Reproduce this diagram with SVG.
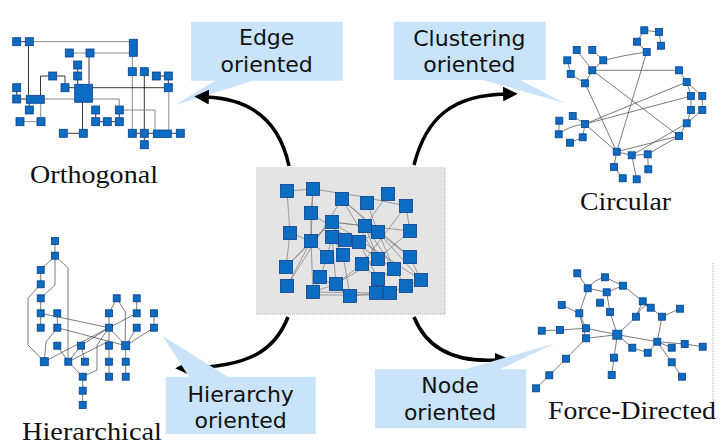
<svg xmlns="http://www.w3.org/2000/svg" width="723" height="446" viewBox="0 0 723 446">
<style>
.n{fill:#0b6cc2;stroke:#0a3f8c;stroke-width:0.8}
.e{fill:none;stroke:#444;stroke-width:0.7}
.og{fill:none;stroke:#8a8a8a;stroke-width:1}
.od{fill:none;stroke:#222;stroke-width:0.9}
.ce{fill:none;stroke:#555;stroke-width:0.6;opacity:0.85}
.call{fill:#c8e3fa}
.ct{font-family:"DejaVu Sans",Verdana,sans-serif;font-size:22px;fill:#111;text-anchor:middle}
.lab{font-family:"Liberation Serif","Times New Roman",serif;font-size:26px;fill:#111}
.arr{fill:none;stroke:#000;stroke-width:3.5}
</style>
<defs>
<marker id="ah" viewBox="0 0 10 10" refX="2" refY="5" markerWidth="4.2" markerHeight="4.2" orient="auto" markerUnits="strokeWidth">
<path d="M0,0 L10,5 L0,10 z" fill="#000"/>
</marker>
</defs>
<rect width="723" height="446" fill="#fff"/>

<!-- Center graph -->
<g id="center">
<rect x="256" y="167" width="189" height="147" fill="#e4e4e4"/>
<path d="M256,314 H445 V167" fill="none" stroke="#aaa" stroke-width="1" stroke-dasharray="1,1"/>
<g class="ce">
<path d="M287,191 L313,189"/><path d="M313,189 Q360,195 406,206"/><path d="M313,189 L311,213"/><path d="M313,189 L311,241"/>
<path d="M287,191 L290,233"/><path d="M342,199 L378,259"/><path d="M342,199 L378,232"/><path d="M367,203 L378,232"/>
<path d="M388,194 L365,226"/><path d="M406,206 L362,264"/><path d="M406,206 L410,231"/><path d="M311,213 L311,241"/>
<path d="M332,222 L311,241"/><path d="M332,222 L365,226"/><path d="M332,222 L410,231"/><path d="M365,226 L378,259"/>
<path d="M378,232 L421,280"/><path d="M378,232 L394,269"/><path d="M378,232 L410,257"/><path d="M410,231 L378,259"/>
<path d="M290,233 L286,267"/><path d="M290,233 L311,241"/><path d="M311,241 L286,267"/><path d="M311,241 L287,286"/>
<path d="M311,241 L327,257"/><path d="M311,241 L313,292"/><path d="M332,237 L327,257"/><path d="M332,237 L343,255"/>
<path d="M345,240 L359,242"/><path d="M359,242 L378,232"/><path d="M359,242 L378,279"/><path d="M343,255 L350,296"/>
<path d="M327,257 L320,277"/><path d="M378,259 L362,264"/><path d="M378,259 L336,284"/><path d="M410,257 L421,280"/>
<path d="M362,264 L336,284"/><path d="M362,264 L378,279"/><path d="M394,269 L378,279"/><path d="M320,277 L313,292"/>
<path d="M336,284 L313,292"/><path d="M313,292 L376,293"/><path d="M313,295 L390,295"/><path d="M350,296 L376,293"/>
<path d="M378,279 L376,293"/><path d="M421,280 L406,286"/><path d="M406,286 L390,293"/><path d="M320,277 L350,296"/>
<path d="M342,199 L410,257"/><path d="M332,222 L421,280"/><path d="M311,213 L394,269"/><path d="M286,267 L332,222"/>
<path d="M287,286 L342,199"/><path d="M336,284 L332,237"/><path d="M365,226 L406,286"/>
</g>
<g class="n">
<rect x="280.5" y="184.5" width="13" height="13"/><rect x="306.5" y="182.5" width="13" height="13"/><rect x="335.5" y="192.5" width="13" height="13"/>
<rect x="360.5" y="196.5" width="13" height="13"/><rect x="381.5" y="187.5" width="13" height="13"/><rect x="399.5" y="199.5" width="13" height="13"/>
<rect x="304.5" y="206.5" width="13" height="13"/><rect x="325.5" y="215.5" width="13" height="13"/><rect x="358.5" y="219.5" width="13" height="13"/>
<rect x="371.5" y="225.5" width="13" height="13"/><rect x="403.5" y="224.5" width="13" height="13"/><rect x="283.5" y="226.5" width="13" height="13"/>
<rect x="304.5" y="234.5" width="13" height="13"/><rect x="325.5" y="230.5" width="13" height="13"/><rect x="338.5" y="233.5" width="13" height="13"/>
<rect x="352.5" y="235.5" width="13" height="13"/><rect x="336.5" y="248.5" width="13" height="13"/><rect x="320.5" y="250.5" width="13" height="13"/>
<rect x="371.5" y="252.5" width="13" height="13"/><rect x="403.5" y="250.5" width="13" height="13"/><rect x="355.5" y="257.5" width="13" height="13"/>
<rect x="279.5" y="260.5" width="13" height="13"/><rect x="387.5" y="262.5" width="13" height="13"/><rect x="313.5" y="270.5" width="13" height="13"/>
<rect x="371.5" y="272.5" width="13" height="13"/><rect x="414.5" y="273.5" width="13" height="13"/><rect x="280.5" y="279.5" width="13" height="13"/>
<rect x="329.5" y="277.5" width="13" height="13"/><rect x="399.5" y="279.5" width="13" height="13"/><rect x="306.5" y="285.5" width="13" height="13"/>
<rect x="343.5" y="289.5" width="13" height="13"/><rect x="369.5" y="286.5" width="13" height="13"/><rect x="383.5" y="286.5" width="13" height="13"/>
</g>
</g>

<!-- Orthogonal -->
<g id="orthogonal">
<g>
<path class="og" d="M33,41.7 H129.3"/><path class="od" d="M20.7,41.7 H25.3"/><path class="od" d="M28.5,45.7 V95.3"/>
<path class="og" d="M73.3,53 H86 M94,53 H129.3"/><path class="od" d="M89,57 V84.3"/><path class="od" d="M77.7,69 V72 M77.7,80 V84.3"/>
<path class="og" d="M132.3,56.3 V67.7"/><path class="og" d="M132.3,75.7 V129.3"/><path class="od" d="M144.3,75.7 V129.3"/>
<path class="od" d="M160.3,76 H164.3"/><path class="od" d="M168.3,80 V83.7"/><path class="od" d="M92.4,87.7 H164.3"/>
<path class="og" d="M168.8,91.7 V130"/><path class="od" d="M48.7,76 H40.5 V95.3"/><path class="od" d="M56.7,76 H65 V83.7"/>
<path class="od" d="M69,87.7 H74.7"/><path class="og" d="M44.3,99 H74.7"/><path class="od" d="M16.7,91.7 V95"/>
<path class="od" d="M20.7,99 H26.3"/><path class="od" d="M29.3,103.3 V106"/><path class="og" d="M40.7,103.3 V117.7"/>
<path class="og" d="M24,121.7 H37" stroke-width="2"/><path class="og" d="M92.4,99 H119.3 V106"/><path class="od" d="M95.7,114 V117.7"/>
<path class="od" d="M99.7,121.7 H103.3 M111.3,121.7 H115.3"/><path class="od" d="M119.3,114 V117.7"/>
<path class="og" d="M155,130 V110 H123.3"/><path class="od" d="M82.5,102.3 V129.3"/><path class="od" d="M67.3,133.3 H79.3"/>
<path class="od" d="M136.3,133.3 H140.3 M148.3,133.3 H153.3 M171.3,133.3 H176.3"/><path class="od" d="M144.3,137.3 V140.7"/>
</g>
<g class="n">
<rect x="12.7" y="37.7" width="8" height="8"/><rect x="25.3" y="37.7" width="8" height="8"/><rect x="65.3" y="49" width="8" height="8"/>
<rect x="86" y="49" width="8" height="8"/><rect x="73.7" y="61" width="8" height="8"/><rect x="73.7" y="72" width="8" height="8"/>
<rect x="128.3" y="67.7" width="8" height="8"/><rect x="140.3" y="67.7" width="8" height="8"/><rect x="152.3" y="72" width="8" height="8"/>
<rect x="164.3" y="72" width="8" height="8"/><rect x="48.7" y="72" width="8" height="8"/><rect x="61" y="83.7" width="8" height="8"/>
<rect x="164.3" y="83.7" width="8" height="8"/><rect x="12.7" y="83.7" width="8" height="8"/><rect x="12.7" y="95" width="8" height="8"/>
<rect x="25.3" y="106" width="8" height="8"/><rect x="91.7" y="106" width="8" height="8"/><rect x="115.3" y="106" width="8" height="8"/>
<rect x="16" y="117.7" width="8" height="8"/><rect x="37" y="117.7" width="8" height="8"/><rect x="91.7" y="117.7" width="8" height="8"/>
<rect x="103.3" y="117.7" width="8" height="8"/><rect x="115.3" y="117.7" width="8" height="8"/><rect x="59.3" y="129.3" width="8" height="8"/>
<rect x="79.3" y="129.3" width="8" height="8"/><rect x="128.3" y="129.3" width="8" height="8"/><rect x="140.3" y="129.3" width="8" height="8"/>
<rect x="176.3" y="129.3" width="8" height="8"/><rect x="140.3" y="140.7" width="8" height="8"/>
<rect x="129.3" y="39.3" width="8" height="17"/><rect x="74.7" y="84.3" width="17.7" height="18"/>
<rect x="26.3" y="95.3" width="18" height="8"/><rect x="153.3" y="130" width="18" height="7.5"/>
</g>
<text class="lab" x="30" y="183" textLength="128" lengthAdjust="spacingAndGlyphs">Orthogonal</text>
</g>

<!-- Circular -->
<g id="circular">
<g class="e">
<path d="M644.3,30.3 L659,32 L661,45.7"/><path d="M644.3,30.3 L637,41.7 L646.7,52"/><path d="M646.7,52 Q625,55 603.3,60.3"/>
<path d="M646.7,52 L616.7,151.7"/><path d="M576.7,50 L592.3,70.3"/><path d="M592.3,50 L603.3,60.3 L592.3,70.3"/>
<path d="M567.3,60.3 L570.7,74 L585,83.3 L592.3,70.3"/><path d="M592.3,70.3 L679,70.3"/><path d="M592.3,70.3 L679,136"/>
<path d="M585,83.3 L616.7,151.7"/><path d="M679,70.3 L686.7,82 L691,96"/><path d="M686.7,82 L702.3,96"/>
<path d="M686.7,82 L585,124"/><path d="M691,96 L585,124"/><path d="M691,96 L691,110"/><path d="M702.3,96 L702.3,110 L686.7,123.3"/>
<path d="M691,110 L686.7,123.3 L679,136"/><path d="M686.7,123.3 L631.7,155.3"/><path d="M679,136 L616.7,151.7"/>
<path d="M679,136 L647.7,154.3"/><path d="M585,124 L572.7,116"/><path d="M585,124 Q568,126 558.7,134.3"/>
<path d="M585,124 L582.7,137.3"/><path d="M559.3,120.7 L558.7,134.3"/><path d="M585,124 L616.7,151.7"/>
<path d="M616.7,151.7 L631.7,155.3 L647.7,154.3"/><path d="M616.7,151.7 L614,167 L622.7,178.3"/><path d="M631.7,155.3 L636.7,179.3"/>
<path d="M647.7,154.3 L648.3,169.3"/><path d="M582.7,137.3 L570,142.7"/>
</g>
<g class="n">
<rect x="640.8" y="26.8" width="7" height="7"/><rect x="655.5" y="28.5" width="7" height="7"/><rect x="633.5" y="38.2" width="7" height="7"/>
<rect x="657.5" y="42.2" width="7" height="7"/><rect x="643.2" y="48.5" width="7" height="7"/><rect x="573.2" y="46.5" width="7" height="7"/>
<rect x="588.8" y="46.5" width="7" height="7"/><rect x="563.8" y="56.8" width="7" height="7"/><rect x="599.8" y="56.8" width="7" height="7"/>
<rect x="588.8" y="66.8" width="7" height="7"/><rect x="567.2" y="70.5" width="7" height="7"/><rect x="581.5" y="79.8" width="7" height="7"/>
<rect x="675.5" y="66.8" width="7" height="7"/><rect x="683.2" y="78.5" width="7" height="7"/><rect x="687.5" y="92.5" width="7" height="7"/>
<rect x="698.8" y="92.5" width="7" height="7"/><rect x="687.5" y="106.5" width="7" height="7"/><rect x="698.8" y="106.5" width="7" height="7"/>
<rect x="683.2" y="119.8" width="7" height="7"/><rect x="675.5" y="132.5" width="7" height="7"/><rect x="569.2" y="112.5" width="7" height="7"/>
<rect x="555.8" y="117.2" width="7" height="7"/><rect x="581.5" y="120.5" width="7" height="7"/><rect x="555.2" y="130.8" width="7" height="7"/>
<rect x="579.2" y="133.8" width="7" height="7"/><rect x="566.5" y="139.2" width="7" height="7"/><rect x="613.2" y="148.2" width="7" height="7"/>
<rect x="628.2" y="151.8" width="7" height="7"/><rect x="644.2" y="150.8" width="7" height="7"/><rect x="610.5" y="163.5" width="7" height="7"/>
<rect x="619.2" y="174.8" width="7" height="7"/><rect x="633.2" y="175.8" width="7" height="7"/><rect x="644.8" y="165.8" width="7" height="7"/>
</g>
<text class="lab" x="580" y="210" textLength="91" lengthAdjust="spacingAndGlyphs">Circular</text>
</g>

<!-- Hierarchical -->
<g id="hierarchical">
<g class="e">
<path d="M55,241 V255.7"/><path d="M55,255.7 L40.7,270"/><path d="M55,255.7 V285 L40.7,298.3"/><path d="M55,255.7 L68,268 V361.7"/>
<path d="M40.7,270 V284.3"/><path d="M40.7,284.3 L28,298 V345 L44.3,361.7"/><path d="M40.7,298.3 V327.7"/>
<path d="M40.7,313.3 L109,327.7"/><path d="M57.3,313.3 V327.7"/><path d="M57.3,327.7 L125.7,345.7"/><path d="M57.3,327.7 L46,342 L44.3,361.7"/>
<path d="M116.7,298.3 L109,313.3"/><path d="M116.7,298.3 L125.3,312 V345.7"/><path d="M136.7,298.3 V313.3"/><path d="M136.7,313.3 L109,327.7"/>
<path d="M109,313.3 V327.7"/><path d="M154,313.3 V327.7"/><path d="M154,327.7 L125.7,345.7"/><path d="M136.7,327.7 L125.7,345.7"/>
<path d="M109,327.7 L125.7,345.7"/><path d="M109,327.7 V345.7"/><path d="M109,327.7 L44.3,361.7"/><path d="M109,327.7 L81,345.7"/>
<path d="M109,327.7 L97,345 V370 L82.7,376.7"/><path d="M81,345.7 L85,361.7"/><path d="M81,345.7 L68.3,361.7"/><path d="M57.3,345.7 L68.3,361.7 L82.7,376.7"/>
<path d="M68.3,361.7 L109,341"/><path d="M109,345.7 V376.7"/><path d="M125.7,345.7 V376.7"/><path d="M82.7,376.7 V405"/>
</g>
<g class="n">
<rect x="51.5" y="237.5" width="7" height="7"/><rect x="51.5" y="252.2" width="7" height="7"/><rect x="37.2" y="266.5" width="7" height="7"/>
<rect x="37.2" y="280.8" width="7" height="7"/><rect x="37.2" y="294.8" width="7" height="7"/><rect x="37.2" y="309.8" width="7" height="7"/>
<rect x="53.8" y="309.8" width="7" height="7"/><rect x="37.2" y="324.2" width="7" height="7"/><rect x="53.8" y="324.2" width="7" height="7"/>
<rect x="113.2" y="294.8" width="7" height="7"/><rect x="133.2" y="294.8" width="7" height="7"/><rect x="105.5" y="309.8" width="7" height="7"/>
<rect x="133.2" y="309.8" width="7" height="7"/><rect x="150.5" y="309.8" width="7" height="7"/><rect x="105.5" y="324.2" width="7" height="7"/>
<rect x="133.2" y="324.2" width="7" height="7"/><rect x="150.5" y="324.2" width="7" height="7"/><rect x="53.8" y="342.2" width="7" height="7"/>
<rect x="77.5" y="342.2" width="7" height="7"/><rect x="105.5" y="342.2" width="7" height="7"/><rect x="121.7" y="341.7" width="8" height="8"/>
<rect x="40.3" y="357.7" width="8" height="8"/><rect x="64.8" y="358.2" width="7" height="7"/><rect x="81.5" y="358.2" width="7" height="7"/>
<rect x="105.5" y="358.2" width="7" height="7"/><rect x="122.2" y="358.2" width="7" height="7"/><rect x="79.2" y="373.2" width="7" height="7"/>
<rect x="105.5" y="373.2" width="7" height="7"/><rect x="122.2" y="373.2" width="7" height="7"/><rect x="79.2" y="387.2" width="7" height="7"/>
<rect x="79.2" y="401.5" width="7" height="7"/>
</g>
<text class="lab" x="22" y="440" textLength="140" lengthAdjust="spacingAndGlyphs">Hierarchical</text>
</g>

<!-- Force-Directed -->
<g id="force-directed">
<path d="M713,263 V408" fill="none" stroke="#aaa" stroke-width="1" stroke-dasharray="1,1"/>
<g class="e">
<path d="M577.3,273.3 L587.7,288.3"/><path d="M587.7,288.3 Q595,279 605,277.3 L623,285.7"/><path d="M587.7,288.3 L606.7,292.3 L623,285.7"/>
<path d="M606.7,292.3 L610,312"/><path d="M623,285.7 L642.7,301.3"/><path d="M587.7,288.3 L579.3,313.3"/><path d="M561.7,305 L579.3,313.3"/>
<path d="M579.3,313.3 L586,328.3"/><path d="M579.3,313.3 L586,338.3"/><path d="M541.7,330.7 L560,330 L586,328.3"/>
<path d="M586,328.3 L617.3,334.7"/><path d="M586,338.3 L617.3,334.7"/><path d="M610,312 L617.3,334.7"/><path d="M636,316.7 L617.3,334.7"/>
<path d="M642.7,301.3 L636,316.7"/><path d="M642.7,301.3 L662,316.7"/><path d="M650.7,307.7 L642.7,301.3"/><path d="M662,316.7 L680,308.7"/>
<path d="M662,316.7 L657.3,341.7"/><path d="M617.3,334.7 L657.3,341.7"/><path d="M617.3,334.7 L632.3,347.7"/><path d="M632.3,347.7 L647.7,352.7 L657.3,341.7"/>
<path d="M657.3,341.7 L671.7,347.7"/><path d="M657.3,341.7 L684.7,344 L702.7,346.7"/><path d="M657.3,341.7 L671.7,362.3 L682,376.7"/>
<path d="M617.3,334.7 L614,357.7 L611.7,375"/><path d="M586,338.3 L566,358.7 L549.3,375.3 L536,388.3"/><path d="M636,316.7 Q645,300 650.7,307.7"/>
</g>
<g class="n">
<rect x="573.8" y="269.8" width="7" height="7"/><rect x="601.5" y="273.8" width="7" height="7"/><rect x="584.2" y="284.8" width="7" height="7"/>
<rect x="603.2" y="288.8" width="7" height="7"/><rect x="619.5" y="282.2" width="7" height="7"/><rect x="558.2" y="301.5" width="7" height="7"/>
<rect x="596.5" y="299.2" width="7" height="7"/><rect x="575.8" y="309.8" width="7" height="7"/><rect x="606.5" y="308.5" width="7" height="7"/>
<rect x="639.2" y="297.8" width="7" height="7"/><rect x="647.2" y="304.2" width="7" height="7"/><rect x="632.5" y="313.2" width="7" height="7"/>
<rect x="658.5" y="313.2" width="7" height="7"/><rect x="676.5" y="305.2" width="7" height="7"/><rect x="538.2" y="327.2" width="7" height="7"/>
<rect x="556.5" y="326.5" width="7" height="7"/><rect x="582.5" y="324.8" width="7" height="7"/><rect x="582.5" y="334.8" width="7" height="7"/>
<rect x="612.8" y="330.2" width="9" height="9"/><rect x="653.8" y="338.2" width="7" height="7"/><rect x="628.8" y="344.2" width="7" height="7"/>
<rect x="644.2" y="349.2" width="7" height="7"/><rect x="668.2" y="344.2" width="7" height="7"/><rect x="681.2" y="340.5" width="7" height="7"/>
<rect x="699.2" y="343.2" width="7" height="7"/><rect x="562.5" y="355.2" width="7" height="7"/><rect x="610.5" y="354.2" width="7" height="7"/>
<rect x="668.2" y="358.8" width="7" height="7"/><rect x="678.5" y="373.2" width="7" height="7"/><rect x="545.8" y="371.8" width="7" height="7"/>
<rect x="608.2" y="371.5" width="7" height="7"/><rect x="532.5" y="384.8" width="7" height="7"/>
</g>
<text class="lab" x="548" y="419" textLength="168" lengthAdjust="spacingAndGlyphs">Force-Directed</text>
</g>

<!-- Callouts -->
<g id="edge-oriented">
<path class="call" d="M191,21.7 H342.7 V80.7 H253 L175,105 L215,80.7 H191 Z"/>
<text class="ct" x="266.7" y="45">Edge</text>
<text class="ct" x="266.7" y="72.3">oriented</text>
</g>
<g id="clustering-oriented">
<path class="call" d="M394,21.7 H545.7 V80 H520 L565,103.3 L483.3,80 H394 Z"/>
<text class="ct" x="469.3" y="45.7">Clustering</text>
<text class="ct" x="469.3" y="72.3">oriented</text>
</g>

<!-- Connectors -->
<g id="connectors">
<path class="arr" d="M289,166 C281,128 258,99 206,97" marker-end="url(#ah)"/>
<path class="arr" d="M414,165 C426,118 452,95 506,94" marker-end="url(#ah)"/>
<path class="arr" d="M288,317 C275,350 250,367 187,368" marker-end="url(#ah)"/>
<path class="arr" d="M414,317 C426,347 452,363 498,360" marker-end="url(#ah)"/>
</g>

<g id="hierarchy-oriented">
<path class="call" d="M165.7,376.7 H189 L162.7,336 L228,376.7 H315.7 V434 H165.7 Z"/>
<text class="ct" x="240.7" y="401.7">Hierarchy</text>
<text class="ct" x="240.7" y="427.7">oriented</text>
</g>
<g id="node-oriented">
<path class="call" d="M375,369.3 H465 L555,343.3 L500,369.3 H526 V428.3 H375 Z"/>
<text class="ct" x="450" y="392.7">Node</text>
<text class="ct" x="450" y="420">oriented</text>
</g>
</svg>
